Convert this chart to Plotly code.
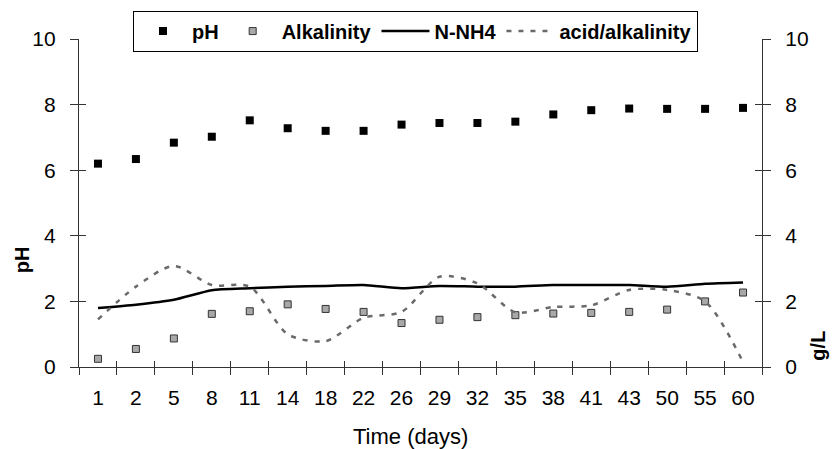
import plotly.graph_objects as go

days = ["1", "2", "5", "8", "11", "14", "18", "22", "26", "29", "32", "35", "38", "41", "43", "50", "55", "60"]
ph = [6.2, 6.34, 6.84, 7.02, 7.52, 7.28, 7.2, 7.2, 7.39, 7.44, 7.44, 7.48, 7.7, 7.83, 7.88, 7.87, 7.87, 7.9]
alkalinity = [0.25, 0.55, 0.87, 1.62, 1.7, 1.91, 1.77, 1.68, 1.34, 1.44, 1.52, 1.58, 1.63, 1.65, 1.68, 1.75, 2.0, 2.27]
n_nh4 = [1.8, 1.9, 2.05, 2.34, 2.4, 2.45, 2.47, 2.5, 2.4, 2.47, 2.45, 2.45, 2.5, 2.5, 2.5, 2.45, 2.54, 2.58]
acid_alk = [1.45, 2.45, 3.08, 2.5, 2.45, 1.0, 0.79, 1.5, 1.68, 2.75, 2.55, 1.67, 1.83, 1.88, 2.35, 2.35, 2.0, 0.15]
y_ticks = [0, 2, 4, 6, 8, 10]

FONT = "Liberation Sans, Arial, sans-serif"
AX = "#333333"

fig = go.Figure()
fig.add_trace(go.Scatter(x=days, y=ph, mode="markers", name="pH",
                         marker=dict(symbol="square", size=8, color="black"),
                         yaxis="y"))
fig.add_trace(go.Scatter(x=days, y=alkalinity, mode="markers", name="Alkalinity",
                         marker=dict(symbol="square", size=7, color="#a8a8a8",
                                     line=dict(color="#333333", width=1)),
                         yaxis="y2"))
fig.add_trace(go.Scatter(x=days, y=n_nh4, mode="lines", name="N-NH4",
                         line=dict(color="black", width=2.5, shape="spline", smoothing=0.6),
                         yaxis="y2"))
fig.add_trace(go.Scatter(x=days, y=acid_alk, mode="lines", name="acid/alkalinity",
                         line=dict(color="#6a6a6a", width=2.5, dash="5px,7px",
                                   shape="spline", smoothing=0.8),
                         yaxis="y2"))

# invisible helper traces to activate the inner tick axes
fig.add_trace(go.Scatter(x=days, y=ph, xaxis="x2", yaxis="y3", mode="markers",
                         marker=dict(opacity=0), showlegend=False, hoverinfo="skip"))
fig.add_trace(go.Scatter(x=days, y=ph, xaxis="x2", yaxis="y4", mode="markers",
                         marker=dict(opacity=0), showlegend=False, hoverinfo="skip"))

ytick_font = dict(size=21, family=FONT, color="black")
inner_y = dict(range=[0, 10], tickvals=y_ticks, overlaying="y", ticks="inside", ticklen=7,
               tickcolor=AX, tickwidth=1.3, showticklabels=False, showline=False,
               showgrid=False, zeroline=False, anchor="x2")

fig.update_layout(
    width=839, height=449,
    margin=dict(l=79, r=77, t=37.5, b=81.5),
    paper_bgcolor="white", plot_bgcolor="white",
    font=dict(family=FONT, color="black"),
    showlegend=True,
    legend=dict(orientation="h", x=(133 - 79) / 683, y=1 + (37.5 - 10) / 330,
                xanchor="left", yanchor="top", bgcolor="white",
                bordercolor="black", borderwidth=1,
                font=dict(size=20, family=FONT, color="black", weight="bold"),
                itemwidth=48, tracegroupgap=0),
    xaxis=dict(type="category", range=[-0.5, 17.5], showgrid=False, zeroline=False,
               showline=True, linecolor=AX, linewidth=1.3, ticks="outside", ticklen=7,
               tickwidth=1.3, tickson="boundaries", tickcolor=AX, ticklabelstandoff=12,
               tickfont=dict(size=21, family=FONT, color="black")),
    xaxis2=dict(type="category", range=[-0.5, 17.5], overlaying="x", showgrid=False,
                ticks="inside", ticklen=6, tickwidth=1.3, tickson="boundaries", tickcolor=AX,
                showticklabels=False, showline=False, zeroline=False, anchor="y", side="bottom"),
    yaxis=dict(range=[0, 10], tickvals=y_ticks, showgrid=False, zeroline=False,
               showline=True, linecolor=AX, linewidth=1.3, ticks="outside", ticklen=8,
               tickwidth=1.3, tickcolor=AX, ticklabelstandoff=10, tickfont=ytick_font),
    yaxis2=dict(range=[0, 10], tickvals=y_ticks, showgrid=False, zeroline=False,
                showline=True, linecolor=AX, linewidth=1.3, ticks="outside", ticklen=8,
                tickwidth=1.3, tickcolor=AX, ticklabelstandoff=10, tickfont=ytick_font,
                overlaying="y", side="right", anchor="x"),
    yaxis3=dict(**inner_y, side="left"),
    yaxis4=dict(**inner_y, side="right"),
    annotations=[
        dict(text="Time (days)", xref="paper", yref="paper", x=(410 - 79) / 683,
             y=(367.5 - 437) / 330, xanchor="center", yanchor="middle", showarrow=False,
             font=dict(size=22, family=FONT, color="black")),
        dict(text="<b>pH</b>", xref="paper", yref="paper", x=(22 - 79) / 683,
             y=(367.5 - 260) / 330, xanchor="center", yanchor="middle", showarrow=False,
             textangle=-90, font=dict(size=20, family=FONT, color="black")),
        dict(text="<b>g/L</b>", xref="paper", yref="paper", x=(818 - 79) / 683,
             y=(367.5 - 346) / 330, xanchor="center", yanchor="middle", showarrow=False,
             textangle=-90, font=dict(size=20, family=FONT, color="black")),
    ],
)

fig.write_html("out.html")
